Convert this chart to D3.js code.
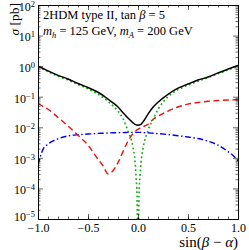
<!DOCTYPE html>
<html>
<head>
<meta charset="utf-8">
<script src="https://cdn.jsdelivr.net/npm/d3@7"></script>
<style>
  body { margin: 0; background: #fff; }
  text { font-family: "Liberation Serif", "DejaVu Serif", serif; }
</style>
</head>
<body>
<script>
'use strict';

// sin(beta - alpha) grid
var sinBA = [-1, -0.95, -0.9, -0.8, -0.7, -0.6, -0.5, -0.4, -0.35, -0.3, -0.25, -0.2, -0.15, -0.1, -0.05,
  -0.03, -0.02, -0.01, 0, 0.01, 0.02, 0.03, 0.05, 0.1, 0.15, 0.2, 0.3, 0.4, 0.5, 0.6, 0.7, 0.8, 0.9, 0.95, 1];

// cross sections in pb
var total = [1.0, 0.84, 0.7, 0.5, 0.38, 0.27, 0.2, 0.14, 0.11, 0.083, 0.063, 0.046, 0.03, 0.02, 0.014,
  0.0125, 0.012, 0.0118, 0.0117, 0.0118, 0.012, 0.0125, 0.015, 0.027, 0.045, 0.066, 0.12, 0.19, 0.26, 0.35, 0.44, 0.6, 0.8, 0.92, 1.05];
var green = [0.95, 0.8, 0.66, 0.47, 0.35, 0.25, 0.18, 0.12, 0.095, 0.07, 0.05, 0.034, 0.019, 0.0075, 0.0022,
  0.0008, 0.00025, 0.00006, 0.000001, 0.00006, 0.00025, 0.0007, 0.002, 0.0080, 0.018, 0.038, 0.1, 0.17, 0.24, 0.32, 0.42, 0.56, 0.75, 0.86, 0.98];
var red = [0.06, 0.048, 0.039, 0.021, 0.011, 0.0055, 0.0026, 0.0009, 0.00055, 0.0003, 0.00038, 0.0007, 0.0016, 0.0035, 0.0062,
  0.0072, 0.0077, 0.0082, 0.0086, 0.009, 0.0094, 0.0098, 0.0105, 0.0126, 0.018, 0.023, 0.034, 0.046, 0.057, 0.065, 0.071, 0.075, 0.078, 0.079, 0.08];
var blue = [0.0006, 0.0019, 0.0028, 0.0042, 0.0052, 0.0057, 0.006, 0.0063, 0.0064, 0.0065, 0.0066, 0.0067, 0.0067, 0.0068, 0.0068,
  0.0068, 0.0068, 0.0068, 0.0068, 0.0068, 0.0068, 0.0068, 0.0067, 0.0066, 0.0064, 0.0062, 0.0058, 0.0053, 0.0048, 0.0043, 0.0035, 0.0026, 0.0016, 0.0012, 0.0008];

var xTicks = [-1.0, -0.5, 0.0, 0.5, 1.0];
var yTicks = [1e-5, 1e-4, 1e-3, 1e-2, 1e-1, 1, 10, 100];
var yExp = ["\u22125", "\u22124", "\u22123", "\u22122", "\u22121", "0", "1", "2"];

var width = 249, height = 250;
var margin = {top: 5, right: 11, bottom: 31, left: 38};

var svg = d3.select("body").append("svg")
  .attr("width", width)
  .attr("height", height);

var x = d3.scaleLinear().domain([-1, 1]).range([margin.left, width - margin.right]);
var y = d3.scaleLog().domain([1e-5, 1e2]).range([height - margin.bottom, margin.top]);

svg.append("clipPath").attr("id", "clip")
  .append("rect")
  .attr("x", margin.left).attr("y", margin.top)
  .attr("width", width - margin.left - margin.right)
  .attr("height", height - margin.top - margin.bottom);

var line = function(vals) {
  return d3.line()
    .x(function(d, i) { return x(sinBA[i]); })
    .y(function(d) { return y(d); })
    .curve(d3.curveMonotoneX)(vals);
};

var plot = svg.append("g").attr("clip-path", "url(#clip)");

plot.append("path").attr("d", line(blue))
  .attr("fill", "none").attr("stroke", "#0000ee").attr("stroke-width", 1.4)
  .attr("stroke-dasharray", "6,2.5,1.5,2.5");
plot.append("path").attr("d", line(red))
  .attr("fill", "none").attr("stroke", "#ee1111").attr("stroke-width", 1.4)
  .attr("stroke-dasharray", "6,3.5");
plot.append("path").attr("d", line(green))
  .attr("fill", "none").attr("stroke", "#11aa11").attr("stroke-width", 1.6)
  .attr("stroke-dasharray", "1.8,2.6");
plot.append("path").attr("d", line(total))
  .attr("fill", "none").attr("stroke", "#000").attr("stroke-width", 1.5);

// frame and ticks
var minorY = y.ticks().filter(function(v) { return yTicks.indexOf(v) < 0; });
var minorX = d3.range(-10, 11).map(function(i) { return i / 10; });

function styleAxis(g) {
  g.selectAll("path.domain").attr("stroke", "#000").attr("stroke-width", 0.8);
  g.selectAll(".tick line").attr("stroke", "#000").attr("stroke-width", 0.6);
  g.selectAll("text").attr("font-size", 12).attr("fill", "#000")
    .style("font-family", "'Liberation Serif', serif");
}

var bottomY = height - margin.bottom, rightX = width - margin.right;

svg.append("g").attr("transform", "translate(0," + bottomY + ")")
  .call(d3.axisBottom(x).tickValues(minorX).tickSize(-2.5).tickSizeOuter(0).tickFormat(""))
  .call(styleAxis);
svg.append("g").attr("transform", "translate(0," + bottomY + ")")
  .call(d3.axisBottom(x).tickValues(xTicks).tickSize(-5).tickSizeOuter(0).tickPadding(4)
    .tickFormat(function(d) { return d3.format(".1f")(d).replace("-", "\u2212"); }))
  .call(styleAxis);
svg.append("g").attr("transform", "translate(0," + margin.top + ")")
  .call(d3.axisTop(x).tickValues(minorX).tickSize(-2.5).tickSizeOuter(0).tickFormat(""))
  .call(styleAxis);
svg.append("g").attr("transform", "translate(0," + margin.top + ")")
  .call(d3.axisTop(x).tickValues(xTicks).tickSize(-5).tickSizeOuter(0).tickFormat(""))
  .call(styleAxis);

svg.append("g").attr("transform", "translate(" + margin.left + ",0)")
  .call(d3.axisLeft(y).tickValues(minorY).tickSize(-2.5).tickSizeOuter(0).tickFormat(""))
  .call(styleAxis);
var yAxisG = svg.append("g").attr("transform", "translate(" + margin.left + ",0)")
  .call(d3.axisLeft(y).tickValues(yTicks).tickSize(-5).tickSizeOuter(0).tickFormat(function() { return ""; }))
  .call(styleAxis);
svg.append("g").attr("transform", "translate(" + rightX + ",0)")
  .call(d3.axisRight(y).tickValues(minorY).tickSize(-2.5).tickSizeOuter(0).tickFormat(""))
  .call(styleAxis);
svg.append("g").attr("transform", "translate(" + rightX + ",0)")
  .call(d3.axisRight(y).tickValues(yTicks).tickSize(-5).tickSizeOuter(0).tickFormat(""))
  .call(styleAxis);

// 10^n labels
yAxisG.selectAll(".tick text").each(function(d, i) {
  var t = d3.select(this).attr("x", -3).attr("dy", i === 0 ? "0.15em" : "0.45em");
  t.append("tspan").text("10");
  t.append("tspan").attr("dy", -4).attr("font-size", 8.5).text(yExp[i]);
});

// axis titles
svg.append("text")
  .attr("transform", "translate(19,3) rotate(-90)")
  .attr("text-anchor", "end")
  .attr("font-size", 13.5)
  .html('<tspan font-style="italic">\u03c3</tspan> [pb]');

svg.append("text")
  .attr("x", rightX).attr("y", 247)
  .attr("text-anchor", "end")
  .attr("font-size", 15)
  .html('sin(<tspan font-style="italic">\u03b2</tspan> \u2212 <tspan font-style="italic">\u03b1</tspan>)');

// annotation
svg.append("text")
  .attr("x", 43).attr("y", 19)
  .attr("font-size", 12.5)
  .html('2HDM type II, tan <tspan font-style="italic">\u03b2</tspan> = 5');
svg.append("text")
  .attr("x", 43).attr("y", 35)
  .attr("font-size", 12.5)
  .html('<tspan font-style="italic">m</tspan><tspan font-style="italic" font-size="8.5" dy="3">h</tspan>' +
    '<tspan dy="-3"> = 125 GeV, </tspan><tspan font-style="italic">m</tspan>' +
    '<tspan font-style="italic" font-size="8.5" dy="3">A</tspan><tspan dy="-3"> = 200 GeV</tspan>');
</script>
</body>
</html>
